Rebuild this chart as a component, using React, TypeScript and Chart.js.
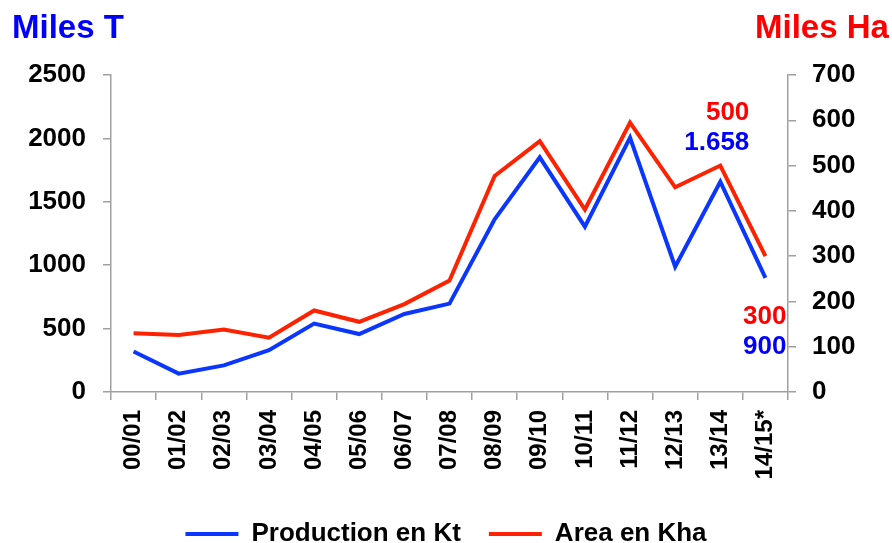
import React, { useEffect, useRef } from "react";
import { Chart, registerables } from "chart.js";

Chart.register(...registerables);

const categories = ["00/01", "01/02", "02/03", "03/04", "04/05", "05/06", "06/07", "07/08", "08/09", "09/10", "10/11", "11/12", "12/13", "13/14", "14/15*"];
const production = [320, 145, 210, 330, 540, 457, 615, 697, 1362, 1851, 1304, 2006, 988, 1658, 900];
const area = [130, 126, 138, 120, 180, 155, 194, 246, 477, 554, 403, 595, 452, 500, 300];
const seriesNames = ["Production en Kt", "Area en Kha"];
const leftUnit = "Miles T";
const rightUnit = "Miles Ha";
const leftAxisMax = 2500;
const leftAxisStep = 500;
const rightAxisMax = 700;
const rightAxisStep = 100;
const annotationTexts = ["500", "1.658", "300", "900"];
const annotationSeries = [1, 0, 1, 0];
const annotationIndex = [13, 13, 14, 14];

const BLUE = "#0000ff";
const RED = "#ff0000";
const LINE_BLUE = "#0a36ff";
const LINE_RED = "#ff2200";
const AXIS = "#a0a0a0";
const FONT = "'Liberation Sans', Arial, sans-serif";

// placement of the value annotations (offsets from the anchor point)
const annotationLayout = [
  { dx: 29, dy: -53, anchorSeries: 1 },
  { dx: 29, dy: -23, anchorSeries: 1 },
  { dx: 21, dy: 61, anchorSeries: 1 },
  { dx: 21, dy: 91, anchorSeries: 1 },
];

const overlayPlugin = {
  id: "overlay",
  afterDraw(chart: any) {
    const ctx = chart.ctx;
    ctx.save();
    ctx.font = `bold 33px ${FONT}`;
    ctx.textBaseline = "alphabetic";
    ctx.textAlign = "left";
    ctx.fillStyle = BLUE;
    ctx.fillText(leftUnit, 12, 38);
    ctx.fillStyle = RED;
    ctx.fillText(rightUnit, 755, 38);

    ctx.font = `bold 26px ${FONT}`;
    ctx.textAlign = "right";
    ctx.textBaseline = "middle";
    const xs = chart.scales.x;
    const y1 = chart.scales.y1;
    const y0 = chart.scales.y;
    annotationTexts.forEach((t, i) => {
      const lay = annotationLayout[i];
      const idx = annotationIndex[i];
      const px = xs.getPixelForValue(idx);
      const py = lay.anchorSeries === 1 ? y1.getPixelForValue(area[idx]) : y0.getPixelForValue(production[idx]);
      ctx.fillStyle = annotationSeries[i] === 1 ? RED : BLUE;
      ctx.fillText(t, px + lay.dx, py + lay.dy);
    });
    ctx.restore();
  },
};

export default function App() {
  const ref = useRef<HTMLCanvasElement | null>(null);
  useEffect(() => {
    if (!ref.current) return;
    const chart = new Chart(ref.current, {
      type: "line",
      data: {
        labels: categories,
        datasets: [
          {
            label: seriesNames[0],
            data: production,
            borderColor: LINE_BLUE,
            backgroundColor: LINE_BLUE,
            borderWidth: 4,
            pointRadius: 0,
            tension: 0,
            yAxisID: "y",
          },
          {
            label: seriesNames[1],
            data: area,
            borderColor: LINE_RED,
            backgroundColor: LINE_RED,
            borderWidth: 4,
            pointRadius: 0,
            tension: 0,
            yAxisID: "y1",
          },
        ],
      },
      options: {
        responsive: false,
        animation: false,
        layout: { padding: { top: 75, left: 0, right: 0, bottom: -14 } },
        plugins: {
          legend: {
            position: "bottom",
            labels: {
              boxWidth: 53,
              boxHeight: 4,
              padding: 28,
              color: "#000",
              font: { family: FONT, size: 26, weight: "bold" },
              generateLabels: (c: any) =>
                c.data.datasets.map((ds: any, i: number) => ({
                  text: ds.label,
                  fillStyle: ds.borderColor,
                  strokeStyle: ds.borderColor,
                  lineWidth: 0,
                  hidden: false,
                  datasetIndex: i,
                })),
            },
          },
          tooltip: { enabled: false },
        },
        scales: {
          x: {
            offset: true,
            grid: { display: true, drawOnChartArea: false, drawTicks: true, tickLength: 8, color: AXIS, offset: true, lineWidth: 1.5 },
            border: { display: true, color: AXIS, width: 1.5 },
            ticks: {
              color: "#000",
              font: { family: FONT, size: 24, weight: "bold" },
              minRotation: 90,
              maxRotation: 90,
              padding: 10,
              autoSkip: false,
            },
            afterFit: (s: any) => {
              s.height = 101;
            },
          },
          y: {
            position: "left",
            min: 0,
            max: leftAxisMax,
            grid: { display: true, drawOnChartArea: false, drawTicks: true, tickLength: 8, color: AXIS, lineWidth: 1.5 },
            border: { display: true, color: AXIS, width: 1.5 },
            ticks: {
              stepSize: leftAxisStep,
              color: "#000",
              padding: 17,
              font: { family: FONT, size: 26, weight: "bold" },
              callback: (v: any) => String(v),
            },
            afterFit: (s: any) => {
              s.width = 111;
            },
          },
          y1: {
            position: "right",
            min: 0,
            max: rightAxisMax,
            grid: { display: true, drawOnChartArea: false, drawTicks: true, tickLength: 8, color: AXIS, lineWidth: 1.5 },
            border: { display: true, color: AXIS, width: 1.5 },
            ticks: {
              stepSize: rightAxisStep,
              color: "#000",
              padding: 16,
              font: { family: FONT, size: 26, weight: "bold" },
              callback: (v: any) => String(v),
            },
            afterFit: (s: any) => {
              s.width = 104;
            },
          },
        },
      } as any,
      plugins: [overlayPlugin],
    });
    return () => chart.destroy();
  }, []);
  return (
    <div style={{ position: "absolute", left: 0, top: 0, width: 892, height: 543, background: "#fff" }}>
      <canvas ref={ref} width={892} height={543} />
    </div>
  );
}
